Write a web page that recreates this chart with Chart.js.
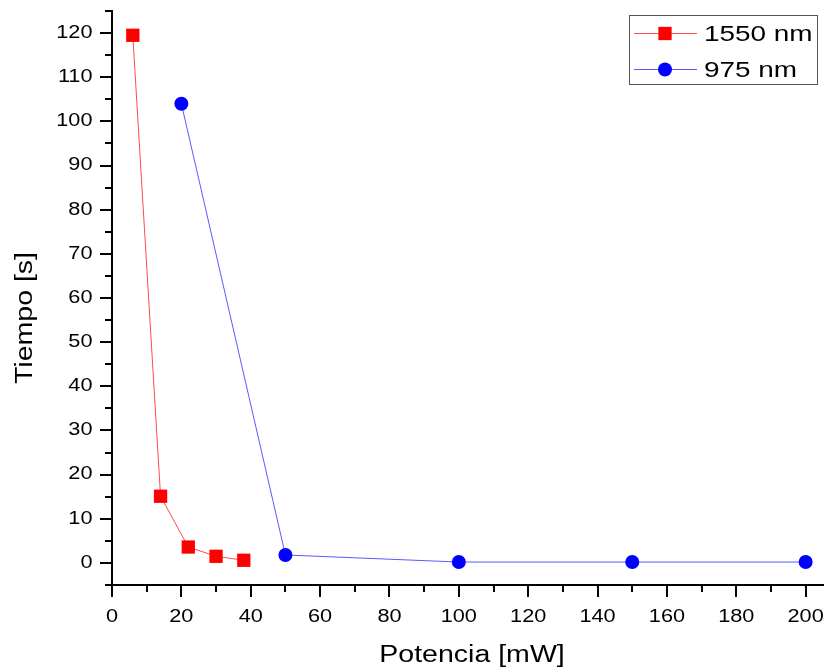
<!DOCTYPE html>
<html>
<head>
<meta charset="utf-8">
<script src="https://cdn.jsdelivr.net/npm/chart.js@4/dist/chart.umd.min.js"></script>
<style>
  html, body { margin: 0; padding: 0; background: #fff; }
  #c { display: block; }
</style>
</head>
<body>
<canvas id="c" width="828" height="672"></canvas>
<script>
// Measured response time versus laser power for two wavelengths
const power1550 = [6, 14, 22, 30, 38];
const time1550  = [119.5, 15.1, 3.6, 1.5, 0.6];
const power975  = [20, 50, 100, 150, 200];
const time975   = [104, 1.8, 0.2, 0.2, 0.2];

const seriesNames = ['1550 nm', '975 nm'];
const xTitle = 'Potencia [mW]';
const yTitle = 'Tiempo [s]';

const xTicks = [0, 20, 40, 60, 80, 100, 120, 140, 160, 180, 200];
const yTicks = [0, 10, 20, 30, 40, 50, 60, 70, 80, 90, 100, 110, 120];
const xMinor = [10, 30, 50, 70, 90, 110, 130, 150, 170, 190];
const yMinor = [-5, 5, 15, 25, 35, 45, 55, 65, 75, 85, 95, 105, 115, 125];

const FONT = '"Liberation Sans", Arial, Helvetica, sans-serif';

// Wide lettering: every label is drawn horizontally expanded.
const STRETCH = 1.24;
const proto = CanvasRenderingContext2D.prototype;
const baseFill = proto.fillText;
const baseMeasure = proto.measureText;
proto.fillText = function (t, x, y, maxW) {
  this.save();
  this.translate(x, y);
  this.scale(STRETCH, 1);
  if (maxW === undefined || maxW === null) baseFill.call(this, t, 0, 0);
  else baseFill.call(this, t, 0, 0, maxW / STRETCH);
  this.restore();
};
proto.measureText = function (t) {
  const m = baseMeasure.call(this, t);
  return {
    width: m.width * STRETCH,
    actualBoundingBoxAscent: m.actualBoundingBoxAscent,
    actualBoundingBoxDescent: m.actualBoundingBoxDescent,
    actualBoundingBoxLeft: m.actualBoundingBoxLeft * STRETCH,
    actualBoundingBoxRight: m.actualBoundingBoxRight * STRETCH
  };
};

const toPoints = (xs, ys) => xs.map((x, i) => ({ x: x, y: ys[i] }));

// Short unlabelled ticks between the numbered ones
const minorTicks = {
  id: 'minorTicks',
  afterDraw(chart) {
    const ctx = chart.ctx;
    const xs = chart.scales.x, ys = chart.scales.y;
    const area = chart.chartArea;
    ctx.save();
    ctx.strokeStyle = '#000';
    ctx.lineWidth = 2;
    ctx.beginPath();
    xMinor.forEach(v => {
      const px = Math.round(xs.getPixelForValue(v));
      ctx.moveTo(px, area.bottom);
      ctx.lineTo(px, area.bottom + 7);
    });
    yMinor.forEach(v => {
      const py = Math.round(ys.getPixelForValue(v));
      ctx.moveTo(area.left - 7, py);
      ctx.lineTo(area.left, py);
    });
    ctx.stroke();
    ctx.restore();
  }
};

// Axis captions
const axisCaptions = {
  id: 'axisCaptions',
  afterDraw(chart) {
    const ctx = chart.ctx;
    ctx.save();
    ctx.fillStyle = '#000';
    ctx.font = '23px ' + FONT;
    ctx.textAlign = 'center';
    ctx.textBaseline = 'alphabetic';
    ctx.fillText(xTitle, 472, 662);
    ctx.translate(32, 318);
    ctx.rotate(-Math.PI / 2);
    ctx.fillText(yTitle, 0, 0);
    ctx.restore();
  }
};

// Boxed key in the upper right corner
const seriesKey = {
  id: 'seriesKey',
  afterDraw(chart) {
    const ctx = chart.ctx;
    const box = { x: 629.5, y: 15.5, w: 188, h: 69 };
    ctx.save();
    ctx.fillStyle = '#fff';
    ctx.fillRect(box.x, box.y, box.w, box.h);
    ctx.strokeStyle = '#555';
    ctx.lineWidth = 1;
    ctx.strokeRect(box.x, box.y, box.w, box.h);
    const rows = [33.5, 69.5];
    chart.data.datasets.forEach((ds, i) => {
      const y = rows[i];
      ctx.strokeStyle = ds.borderColor;
      ctx.lineWidth = 1;
      ctx.beginPath();
      ctx.moveTo(634, y);
      ctx.lineTo(697, y);
      ctx.stroke();
      ctx.fillStyle = ds.pointBackgroundColor;
      Chart.helpers.drawPoint(ctx, {
        pointStyle: ds.pointStyle,
        radius: ds.pointRadius,
        borderWidth: 0,
        rotation: 0
      }, 665, y);
      ctx.fillStyle = '#000';
      ctx.font = '22.5px ' + FONT;
      ctx.textAlign = 'left';
      ctx.textBaseline = 'middle';
      ctx.fillText(ds.label, 704, y + 1);
    });
    ctx.restore();
  }
};

const axisGrid = {
  display: true,
  drawOnChartArea: false,
  drawTicks: true,
  tickLength: 12,
  tickWidth: 2,
  tickColor: '#000',
  color: '#000',
  lineWidth: 2
};
const axisBorder = { display: true, color: '#000', width: 2 };
const tickFont = { family: FONT, size: 17.5 };

new Chart(document.getElementById('c'), {
  type: 'line',
  data: {
    datasets: [
      {
        label: seriesNames[0],
        data: toPoints(power1550, time1550),
        borderColor: '#ff4a4a',
        borderWidth: 1,
        pointStyle: 'rect',
        pointRadius: 9.4,
        pointHoverRadius: 9.4,
        pointBackgroundColor: '#ff0000',
        pointBorderWidth: 0,
        tension: 0
      },
      {
        label: seriesNames[1],
        data: toPoints(power975, time975),
        borderColor: '#5a5aff',
        borderWidth: 1,
        pointStyle: 'circle',
        pointRadius: 7,
        pointHoverRadius: 7,
        pointBackgroundColor: '#0000ff',
        pointBorderWidth: 0,
        tension: 0
      }
    ]
  },
  options: {
    responsive: false,
    animation: false,
    devicePixelRatio: 1,
    layout: { autoPadding: false, padding: { top: 11, right: 5, left: 0, bottom: 0 } },
    plugins: {
      legend: { display: false },
      tooltip: { enabled: false }
    },
    scales: {
      x: {
        type: 'linear',
        min: 0,
        max: 205,
        afterBuildTicks: s => { s.ticks = xTicks.map(v => ({ value: v })); },
        afterFit: s => { s.height = 87; s.paddingLeft = 0; s.paddingRight = 0; },
        border: axisBorder,
        grid: axisGrid,
        ticks: { color: '#000', font: tickFont, padding: 10, maxRotation: 0, autoSkip: false }
      },
      y: {
        type: 'linear',
        min: -5,
        max: 125,
        afterBuildTicks: s => { s.ticks = yTicks.map(v => ({ value: v })); },
        afterFit: s => { s.width = 112; s.paddingTop = 0; s.paddingBottom = 0; },
        border: axisBorder,
        grid: axisGrid,
        ticks: { color: '#000', font: tickFont, padding: 7.5, autoSkip: false }
      }
    }
  },
  plugins: [minorTicks, axisCaptions, seriesKey]
});
</script>
</body>
</html>
